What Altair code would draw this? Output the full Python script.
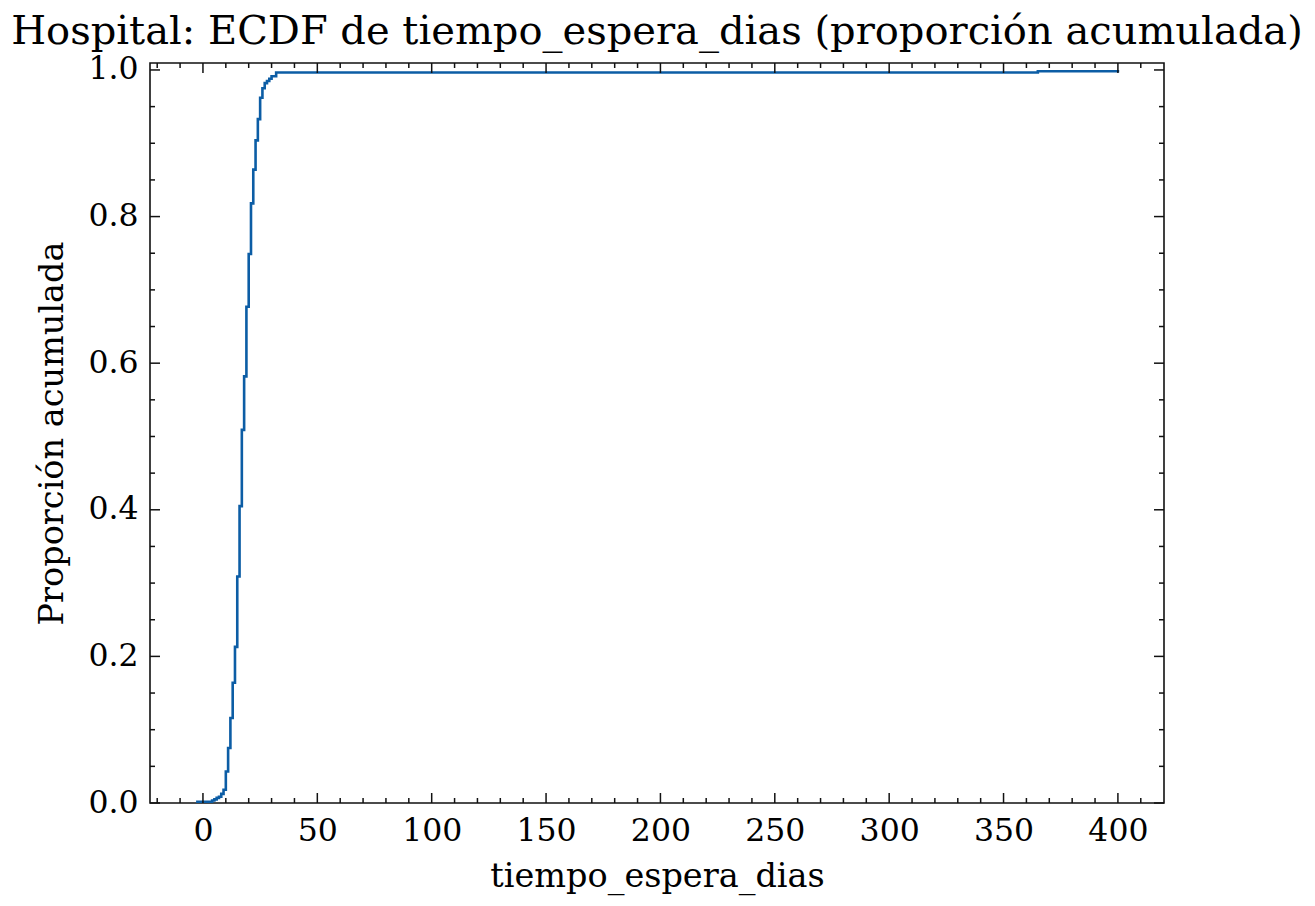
import altair as alt
import pandas as pd

# ECDF (value in days, cumulative proportion)
dias = [-3, 4, 5, 6, 7, 8, 9, 10, 11, 12, 13, 14, 15, 16, 17, 18, 19, 20,
        21, 22, 23, 24, 25, 26, 27, 28, 29, 30, 32, 365, 400]
proporcion = [0.0017, 0.0034, 0.005, 0.007, 0.0085, 0.0125, 0.018, 0.043,
              0.075, 0.116, 0.164, 0.213, 0.309, 0.405, 0.509, 0.582, 0.677,
              0.749, 0.818, 0.864, 0.904, 0.933, 0.962, 0.975, 0.982, 0.985,
              0.988, 0.9915, 0.9966, 0.9983, 1.0]

x_major = [0, 50, 100, 150, 200, 250, 300, 350, 400]
x_minor = [v for v in range(-20, 420, 10) if v % 50 != 0]
y_major = [0.0, 0.2, 0.4, 0.6, 0.8, 1.0]
y_minor = [round(0.05 * i, 2) for i in range(1, 20) if i % 4 != 0]

W, H = 1014, 740
FONT = "DejaVu Serif"
BLUE = "#0C5DA5"
INK = "#111111"
LABEL_SIZE = 31.5
TITLE_SIZE = 33.5

xscale = alt.Scale(domain=[-23.15, 420.15], nice=False, zero=False)
yscale = alt.Scale(domain=[0, 1.0095], nice=False, zero=False)

df = pd.DataFrame({"dias": dias, "prop": proporcion})

line = alt.Chart(df).mark_line(interpolate="step-after", color=BLUE,
                               strokeWidth=2.6).encode(
    x=alt.X("dias:Q", scale=xscale,
            axis=alt.Axis(values=x_major, format="d",
                          labelPadding=12,
                          title="tiempo_espera_dias",
                          titleBaseline="alphabetic", titleY=83)),
    y=alt.Y("prop:Q", scale=yscale,
            axis=alt.Axis(values=y_major, format=".1f",
                          labelPadding=12,
                          title="Proporción acumulada",
                          titleBaseline="alphabetic", titleX=-88)),
)


def xticks(values, length):
    d = pd.DataFrame({"v": values})
    base = alt.Chart(d).mark_rule(color=INK, strokeWidth=1.5)
    x = alt.X("v:Q", scale=xscale)
    bottom = base.encode(x=x, y=alt.value(H), y2=alt.value(H - length))
    top = base.encode(x=x, y=alt.value(0), y2=alt.value(length))
    return [bottom, top]


def yticks(values, length):
    d = pd.DataFrame({"v": values})
    base = alt.Chart(d).mark_rule(color=INK, strokeWidth=1.5)
    y = alt.Y("v:Q", scale=yscale)
    left = base.encode(y=y, x=alt.value(0), x2=alt.value(length))
    right = base.encode(y=y, x=alt.value(W), x2=alt.value(W - length))
    return [left, right]


layers = (xticks(x_major, 10) + xticks(x_minor, 5) +
          yticks(y_major, 10) + yticks(y_minor, 5))

chart = alt.layer(line, *layers).properties(
    width=W, height=H,
    title=alt.TitleParams(
        "Hospital: ECDF de tiempo_espera_dias (proporción acumulada)",
        font=FONT, fontSize=40, fontWeight="normal", color="black",
        anchor="middle", baseline="bottom", offset=10, dy=48),
    autosize=alt.AutoSizeParams(type="none"),
    padding={"left": 142, "top": 55, "right": 143, "bottom": 95},
).configure(background="white").configure_view(
    stroke=INK, strokeWidth=1.6
).configure_axis(
    ticks=False, domain=False, grid=False,
    labelFont=FONT, labelFontSize=LABEL_SIZE, labelColor="black",
    titleFont=FONT, titleFontSize=TITLE_SIZE, titleFontWeight="normal",
    titleColor="black",
)

chart.save("out.html", embed_options={"renderer": "svg", "actions": False})
